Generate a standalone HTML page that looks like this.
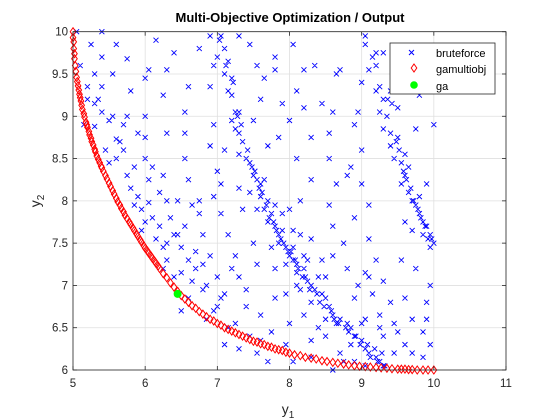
<!DOCTYPE html>
<html><head><meta charset="utf-8"><style>
body{margin:0;background:#fff;}
svg{display:block;font-family:"Liberation Sans",Arial,sans-serif;}
</style></head><body>
<svg id="chart" width="560" height="420">
<rect x="0" y="0" width="560" height="420" fill="#fff"/>
<rect x="73" y="31.7" width="433" height="338.3" fill="#fff"/>
<g id="grid"></g>
<g id="bf"></g>
<g id="gm"></g>
<g id="gaS"></g>
<rect x="73" y="31.7" width="433" height="338.3" fill="none" stroke="#262626" stroke-width="0.8"/>
<g id="ticks"></g>
<text x="290" y="22" text-anchor="middle" font-size="13" font-weight="bold" fill="#000">Multi-Objective Optimization / Output</text>
<text x="288" y="414" text-anchor="middle" font-size="14" fill="#262626">y<tspan font-size="10" dy="4">1</tspan></text>
<text transform="translate(40,201) rotate(-90)" text-anchor="middle" font-size="14" fill="#262626">y<tspan font-size="10" dy="4">2</tspan></text>
<g>
<rect x="390" y="43" width="105" height="51" fill="#fff" stroke="#262626" stroke-width="0.8"/>
<g><path d="M409,50 l5,5 M414,50 l-5,5" stroke="#00f" stroke-width="1" fill="none"/><text x="436" y="57" font-size="11" fill="#000">bruteforce</text></g>
<g><path d="M414,64 l2.8,4 l-2.8,4 l-2.8,-4 z" stroke="#f00" stroke-width="1" fill="none"/><text x="436" y="73" font-size="11" fill="#000">gamultiobj</text></g>
<g><circle cx="414" cy="85" r="3.8" fill="#00ff00"/><text x="436" y="90" font-size="11" fill="#000">ga</text></g>
</g>
</svg>
<script>
const xTicks=[5,6,7,8,9,10,11];
const yTicks=[6,6.5,7,7.5,8,8.5,9,9.5,10];
const bfX=[5.05,5.4,5.25,5.6,5.4,5.75,5.3,5.55,5.4,5.2,5.3,5.4,5.15,5.3,5.55,5.6,5.45,5.6,5.7,5.5,5.75,5.8,5.9,5.85,6.05,6.0,6.1,5.95,6.15,6.25,6.3,6.25,6.4,6.5,5.8,5.75,6.0,6.0,6.0,6.0,6.05,6.25,6.3,6.35,6.3,6.15,6.05,6.3,6.4,6.25,6.3,6.55,6.6,6.55,6.55,6.6,6.65,6.55,6.5,6.6,6.65,6.7,6.9,6.8,6.75,6.9,6.95,6.9,6.95,7.0,6.95,7.0,7.05,6.95,6.85,7.0,6.8,6.6,6.5,
7.05,7.03,7.1,7.15,7.1,7.2,7.15,7.2,7.25,7.3,7.25,7.3,7.35,7.3,7.4,7.45,7.5,7.55,7.6,7.65,7.6,7.7,7.65,7.75,7.7,7.8,7.85,7.9,7.85,7.95,8.0,8.05,8.1,8.1,8.2,8.25,8.3,8.35,8.45,8.5,8.55,8.6,8.7,8.8,8.85,8.9,9.0,9.05,9.1,9.2,9.25,9.3,7.45,7.55,7.8,7.9,8.05,8.15,8.05,8.2,7.75,7.8,7.95,
9.05,9.05,9.15,9.2,9.1,9.2,9.25,9.2,9.3,9.25,9.35,9.3,9.4,9.5,9.4,9.45,9.55,9.6,9.65,9.55,9.65,9.7,9.75,9.8,9.85,9.9,9.95,9.95,10.0,9.85,9.7,9.6,9.8,9.6,9.5,9.4,9.3,9.5,9.6,9.55,9.75,9.9,10.0,9.8,
7.3,7.45,7.55,7.8,7.8,8.05,8.2,8.35,8.65,8.7,7.65,8.1,7.6,7.9,8.2,8.45,8.6,8.95,9.0,7.5,7.7,7.85,8.0,8.1,8.3,8.55,8.9,9.0,8.85,9.0,9.1,8.9,8.8,8.55,8.65,8.55,8.3,8.15,8.6,8.75,8.6,8.45,8.3,8.0,9.1,9.2,9.05,9.3,9.4,9.25,9.15,9.5,9.6,9.7,9.85,9.9,9.95,9.75,9.55,9.7,9.45,9.3,9.45,9.9,9.95,9.85,9.6,9.05,8.9,8.8,8.5,8.3,8.15,7.95,7.8,7.6,7.4,7.25,7.45,7.6,7.75,7.95,8.05,8.3,8.5,8.65,8.7,8.85,8.6,8.3,8.9,9.0,7.1,7.3,7.55,7.5,7.25,7.15,7.05,7.35,7.3,7.05,7.1,7.2,7.0,6.9,6.75,7.2,7.4,7.15,7.1,7.3,7.55,7.7,8.0,8.2,8.4,8.1,8.5,8.4,8.25,8.95,9.1,9.25,9.05,8.75,
7.12,7.22,7.28,7.33,7.42,7.48,7.52,7.58,7.62,7.68,7.72,7.78,7.82,7.88,7.92,7.98,8.02,8.08,8.12,8.18,8.22,8.28,8.38,8.42,8.48,8.58,8.62,8.68,8.78,8.82,8.92,8.98,9.08,9.12,9.18,9.22,9.28,9.32,9.36,9.42,9.48,9.52,9.58,9.62,9.68,9.72,9.78,9.82,9.88,9.92,9.97,
5.1,5.2,5.35,5.5,5.65,5.85,5.95,6.2,6.45,6.7,6.85,5.7,6.1,6.4,6.8,6.2,5.9,6.45,6.75];
const bfY=[10,10,9.85,9.85,9.7,9.68,9.5,9.5,9.35,9.2,9.15,9.05,8.9,8.88,9,8.73,8.6,8.5,8.6,8.45,8.3,8.15,8.05,7.95,7.98,7.75,7.8,7.65,7.55,7.45,7.3,7.2,7.1,7.15,9.3,9.0,9.45,9.0,8.75,8.5,8.25,8.3,8.0,7.8,7.5,9.9,9.55,9.55,9.75,9.25,8.8,9.05,9.35,8.8,8.5,8.25,7.95,7.7,7.45,7.3,7.05,7.2,7.35,7.6,7.85,8.65,8.9,9.35,9.6,8.35,8.05,7.1,6.85,6.7,6.6,6.75,6.95,6.85,6.7,
9.95,9.9,9.8,9.65,9.5,9.45,9.3,9.25,9.05,9.05,8.85,8.8,8.7,8.55,8.5,8.45,8.3,8.25,8.2,8.25,8.05,8.0,7.9,7.85,7.75,7.7,7.6,7.65,7.5,7.45,7.35,7.3,7.25,7.15,7.2,7.05,7.0,6.95,6.9,6.85,6.75,6.65,6.6,6.55,6.5,6.4,6.35,6.25,6.2,6.15,6.1,6.05,8.1,7.9,7.95,7.85,7.65,7.6,7.45,7.35,7.45,7.2,7.25,
9.95,9.85,9.7,9.75,9.55,9.6,9.35,9.3,9.2,9.05,9.0,8.85,8.8,8.75,8.65,8.5,8.45,8.3,8.4,8.2,8.1,8.0,7.95,7.85,7.75,7.7,7.6,7.45,7.5,7.6,7.65,7.75,8.05,8.55,9.1,9.3,9.75,9.8,9.6,9.4,8.85,8.2,8.9,9.25,
9.95,9.85,9.6,9.7,9.55,9.85,9.55,9.6,9.5,9.55,9.45,9.3,9.2,9.15,9.1,9.15,9.05,9.05,9.4,8.95,8.65,8.75,8.95,8.5,8.75,8.8,8.9,8.6,8.4,8.2,7.95,7.8,8.3,8.5,8.2,7.95,8.25,8.0,7.7,7.5,7.35,7.3,7.55,7.9,7.55,7.3,7.15,7.05,6.8,6.65,6.9,6.45,6.3,6.2,6.15,6.8,7.0,7.2,7.3,6.6,6.55,6.4,6.2,6.6,6.3,6.45,6.85,6.6,6.85,7.2,7.1,6.8,6.95,6.9,6.85,6.65,6.75,6.55,6.4,6.35,6.45,6.3,6.1,6.35,6.4,6.55,6.2,6.3,6.0,6.15,6.1,6.55,6.9,7.1,7.25,7.5,7.35,7.6,7.85,7.9,8.15,8.2,8.6,8.95,9.7,9.95,9.8,7.2,6.95,6.5,6.3,6.25,6.2,6.1,6.55,6.65,6.5,7.0,6.6,7.1,7.3,7.0,7.1,6.5,6.05,6.1,
9.6,9.4,9.0,8.9,8.6,8.4,8.35,8.15,8.1,7.95,7.8,7.75,7.65,7.55,7.5,7.4,7.4,7.3,7.2,7.1,7.1,6.95,6.9,6.8,6.75,6.7,6.6,6.55,6.5,6.45,6.4,6.3,6.3,6.15,6.25,6.1,6.2,6.05,9.2,9.15,8.7,8.6,8.35,8.25,8.15,8.0,7.9,7.8,7.7,7.55,7.55,
9.6,9.35,9.2,8.95,8.7,8.4,7.9,7.7,7.6,7.4,7.0,8.9,8.4,7.6,7.25,8.1,8.8,8.0,8.0];
const gmX=[5.00,5.00,5.01,5.01,5.02,5.02,5.03,5.04,5.05,5.06,5.07,5.08,5.09,5.10,5.11,5.12,5.13,5.15,5.16,5.18,5.19,5.20,5.22,5.23,5.25,5.26,5.28,5.30,5.31,5.33,5.35,5.37,5.39,5.40,5.42,5.45,5.47,5.50,5.52,5.55,5.57,5.60,5.62,5.65,5.67,5.70,5.72,5.75,5.78,5.80,5.83,5.85,5.88,5.90,5.93,5.95,5.98,6.00,6.03,6.05,6.08,6.10,6.13,6.15,6.18,6.20,6.25,6.30,6.35,6.40,6.45,6.50,6.55,6.60,6.65,6.70,6.75,6.80,6.85,6.90,6.95,7.00,7.05,7.10,7.15,7.20,7.25,7.30,7.35,7.40,7.45,7.50,7.55,7.60,7.65,7.70,7.75,7.80,7.85,7.90,7.95,8.00,8.07,8.15,8.22,8.30,8.37,8.45,8.52,8.60,8.67,8.75,8.82,8.90,8.97,9.05,9.12,9.20,9.27,9.35,9.42,9.50,9.55,9.60,9.65,9.70,9.77,9.85,9.92,10.0];
const gmY=[10.0,9.93,9.88,9.8,9.74,9.68,9.6,9.53,9.46,9.41,9.36,9.31,9.26,9.22,9.18,9.13,9.08,9.03,8.99,8.93,8.9,8.87,8.82,8.78,8.74,8.7,8.66,8.61,8.58,8.53,8.49,8.45,8.41,8.39,8.35,8.3,8.26,8.21,8.17,8.12,8.08,8.03,7.99,7.95,7.91,7.87,7.83,7.79,7.75,7.72,7.68,7.65,7.61,7.58,7.54,7.51,7.47,7.44,7.41,7.38,7.35,7.32,7.29,7.26,7.23,7.2,7.14,7.09,7.03,6.98,6.93,6.88,6.84,6.8,6.76,6.73,6.69,6.66,6.63,6.6,6.58,6.55,6.53,6.5,6.48,6.46,6.44,6.42,6.4,6.38,6.36,6.34,6.33,6.31,6.3,6.28,6.27,6.25,6.24,6.23,6.21,6.2,6.18,6.17,6.15,6.14,6.13,6.11,6.1,6.09,6.08,6.07,6.06,6.05,6.045,6.04,6.035,6.03,6.025,6.02,6.015,6.01,6.01,6.01,6.005,6.005,6.0,6.0,6.0,6.0];
const gaX=[6.45];
const gaY=[6.9];
const NS='http://www.w3.org/2000/svg';
const X0=73,X1=506,Y0=370,Y1=31.7;
function sx(v){return X0+(v-5)/(11-5)*(X1-X0);}
function sy(v){return Y0-(v-6)/(10-6)*(Y0-Y1);}
function mk(tag,attrs,parent){const e=document.createElementNS(NS,tag);for(const k in attrs)e.setAttribute(k,attrs[k]);parent.appendChild(e);return e;}
const grid=document.getElementById('grid'),ticks=document.getElementById('ticks');
xTicks.forEach(t=>{const x=sx(t);
 const g=mk('line',{x1:x,x2:x,y1:Y1,y2:Y0,stroke:'#dfdfdf','stroke-width':0.8},grid);
 
 
 mk('line',{x1:x,x2:x,y1:Y0,y2:Y0-4,stroke:'#262626','stroke-width':0.8},ticks);
 mk('line',{x1:x,x2:x,y1:Y1,y2:Y1+4,stroke:'#262626','stroke-width':0.8},ticks);
 const l=mk('text',{x:x,y:Y0+17,'text-anchor':'middle','font-size':11.5,fill:'#262626'},ticks);
 l.textContent=t;
 
 });
yTicks.forEach(t=>{const y=sy(t);
 const g=mk('line',{x1:X0,x2:X1,y1:y,y2:y,stroke:'#dfdfdf','stroke-width':0.8},grid);
 
 
 mk('line',{x1:X0,x2:X0+4,y1:y,y2:y,stroke:'#262626','stroke-width':0.8},ticks);
 mk('line',{x1:X1,x2:X1-4,y1:y,y2:y,stroke:'#262626','stroke-width':0.8},ticks);
 const l=mk('text',{x:X0-5,y:y+4,'text-anchor':'end','font-size':11.5,fill:'#262626'},ticks);
 l.textContent=t;
 
 });
const bf=document.getElementById('bf');
let d='';
for(let i=0;i<Math.min(bfX.length,bfY.length);i++){const x=sx(bfX[i]),y=sy(bfY[i]);d+=`M${x-2.5},${y-2.5}l5,5M${x+2.5},${y-2.5}l-5,5`;}
const bp=mk('path',{d:d,stroke:'#0000ff','stroke-width':0.9,fill:'none'},bf);


const gm=document.getElementById('gm');
for(let i=0;i<Math.min(gmX.length,gmY.length);i++){const x=sx(gmX[i]),y=sy(gmY[i]);
 const p=mk('path',{d:`M${x},${y-4}l2.8,4l-2.8,4l-2.8,-4z`,stroke:'#ff0000','stroke-width':1,fill:'none'},gm);
 
 }
const gaS=document.getElementById('gaS');
for(let i=0;i<gaX.length;i++){
 const c=mk('circle',{cx:sx(gaX[i]),cy:sy(gaY[i]),r:4,fill:'#00ff00'},gaS);
 
 }
</script>
</body></html>
